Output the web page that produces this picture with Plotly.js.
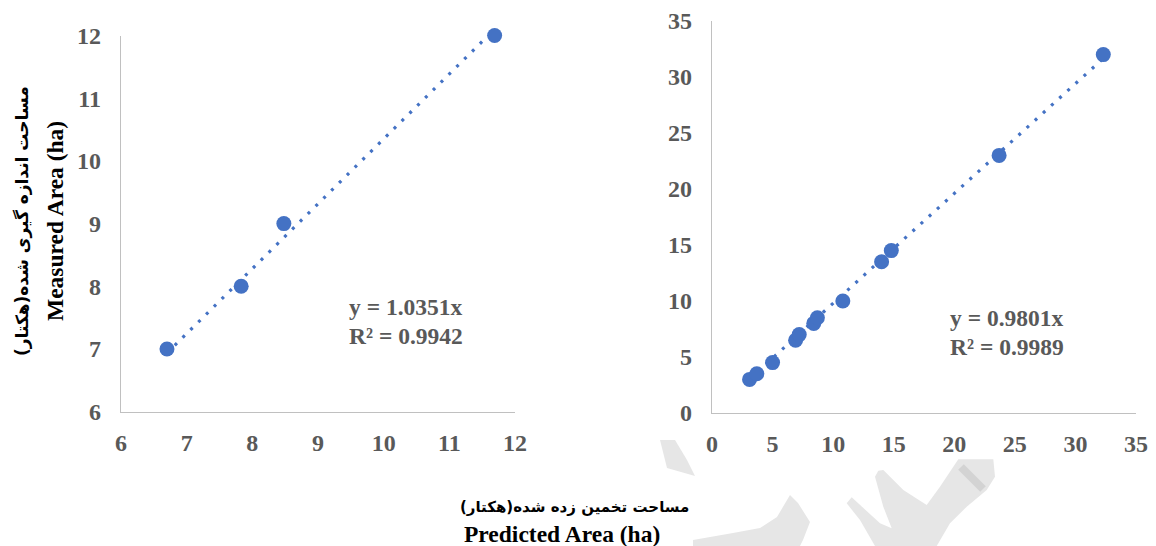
<!DOCTYPE html>
<html>
<head>
<meta charset="utf-8">
<script src="https://cdn.plot.ly/plotly-3.0.1.min.js"></script>
<style>html,body{margin:0;padding:0;background:#fff;}#chart{width:1156px;height:546px;}</style>
</head>
<body>
<div id="chart"></div>
<script>
// ---- Data ----
const leftPredicted = [6.7, 7.83, 8.48, 11.69];
const leftMeasured  = [7, 8, 9, 12];
const leftSlope = 1.0351;
const leftEquation = "y = 1.0351x";
const leftR2 = "R² = 0.9942";

const rightPredicted = [3.1, 3.7, 5.0, 6.9, 7.2, 8.4, 8.7, 10.8, 14.0, 14.8, 23.7, 32.3];
const rightMeasured  = [3.0, 3.5, 4.5, 6.5, 7.0, 8.0, 8.5, 10.0, 13.5, 14.5, 23.0, 32.0];
const rightSlope = 0.9801;
const rightEquation = "y = 0.9801x";
const rightR2 = "R² = 0.9989";

const leftTicks = [6, 7, 8, 9, 10, 11, 12];
const rightTicks = [0, 5, 10, 15, 20, 25, 30, 35];

const yTitleFa = "مساحت اندازه گیری شده(هکتار)";
const yTitleEn = "Measured Area (ha)";
const xTitleFa = "مساحت تخمین زده شده(هکتار)";
const xTitleEn = "Predicted Area (ha)";

// ---- Styles ----
const W = 1156, H = 546;
const blue = '#4472C4';
const gray = '#595959';
const serif = 'Liberation Serif';
const persian = 'DejaVu Sans';
const px = (x) => x / W;
const py = (y) => 1 - y / H;
const b = (s) => '<b>' + s + '</b>';

function trend(xs, slope) {
  const lo = Math.min(...xs), hi = Math.max(...xs);
  return {x: [lo, hi], y: [lo * slope, hi * slope]};
}
const lt = trend(leftPredicted, leftSlope);
const rt = trend(rightPredicted, rightSlope);

const lineStyle = {color: blue, width: 3.2, dash: '3px,8px'};
const markerStyle = {color: blue, size: 15};

const traces = [
  {x: lt.x, y: lt.y, mode: 'lines', line: lineStyle, xaxis: 'x', yaxis: 'y', cliponaxis: false},
  {x: leftPredicted, y: leftMeasured, mode: 'markers', marker: markerStyle, xaxis: 'x', yaxis: 'y', cliponaxis: false},
  {x: rt.x, y: rt.y, mode: 'lines', line: lineStyle, xaxis: 'x2', yaxis: 'y2', cliponaxis: false},
  {x: rightPredicted, y: rightMeasured, mode: 'markers', marker: markerStyle, xaxis: 'x2', yaxis: 'y2', cliponaxis: false}
];

const tickFont = {family: serif, size: 24, color: gray};
function axis(domain, range, ticks, anchor, isY) {
  return {
    domain: domain, range: range, tickvals: ticks, ticktext: ticks.map(t => b(String(t))),
    anchor: anchor, showgrid: false, zeroline: false, showline: true,
    linecolor: '#C0C0C0', linewidth: 1.3, ticks: '', tickfont: tickFont,
    ticklabelstandoff: isY ? 14 : 9, fixedrange: true
  };
}

// watermark polygons in pixel coordinates (decorative background)
const wm = [
  [[660,440],[675,440],[687,460],[695,476],[667,468]],
  [[693,540],[733,533],[760,528],[777,517],[790,495],[798,503],[810,522],[803,540],[800,546],[693,546]],
  [[846.7,503.3],[851.7,497.3],[880,523.3],[891.7,528.3],[883.3,506.7],[875,476.7],[878.3,470.7],
   [883.3,470],[903.3,490],[926.7,505],[940,486.7],[958.3,459.3],[993.3,459.3],[995,476.7],
   [986.7,490],[966.7,506.7],[950,523.3],[936.7,546],[875,546],[860,520]]
];
const shapes = wm.map(p => ({
  type: 'path', xref: 'paper', yref: 'paper', layer: 'below',
  path: 'M' + p.map(q => px(q[0]).toFixed(5) + ',' + py(q[1]).toFixed(5)).join('L') + 'Z',
  fillcolor: '#E6E6E6', line: {width: 0}
}));
shapes.push({type: 'line', xref: 'paper', yref: 'paper', layer: 'below',
  x0: px(961), y0: py(467), x1: px(983), y1: py(489), line: {color: '#D3D3D3', width: 8}});

const annFont = {family: serif, size: 23.5, color: gray};
function eqLine(xr, yr, x, y, text) {
  return {xref: xr, yref: yr, x: x, y: y, text: b(text), showarrow: false,
    align: 'left', xanchor: 'left', yanchor: 'middle', font: annFont};
}
const layout = {
  width: W, height: H,
  margin: {l: 0, r: 0, t: 0, b: 0},
  paper_bgcolor: '#fff', plot_bgcolor: 'rgba(0,0,0,0)',
  showlegend: false,
  xaxis: axis([px(121), px(515)], [6, 12], leftTicks, 'y', false),
  yaxis: axis([py(411.7), py(35.5)], [6, 12], leftTicks, 'x', true),
  xaxis2: axis([px(712), px(1136)], [0, 35], rightTicks, 'y2', false),
  yaxis2: axis([py(413), py(21)], [0, 35], rightTicks, 'x2', true),
  shapes: shapes,
  annotations: [
    eqLine('x', 'y', 9.44, 7.67, leftEquation),
    eqLine('x', 'y', 9.44, 7.21, leftR2),
    eqLine('x2', 'y2', 19.49, 8.48, rightEquation),
    eqLine('x2', 'y2', 19.49, 5.9, rightR2),
    {xref: 'paper', yref: 'paper', x: px(22), y: py(221), text: b(yTitleFa), textangle: -90,
     showarrow: false, xanchor: 'center', yanchor: 'middle',
     font: {family: persian, size: 17, color: '#000'}},
    {xref: 'paper', yref: 'paper', x: px(55), y: py(221), text: b(yTitleEn), textangle: -90,
     showarrow: false, xanchor: 'center', yanchor: 'middle',
     font: {family: serif, size: 23.5, color: '#000'}},
    {xref: 'paper', yref: 'paper', x: px(574), y: py(507), text: b(xTitleFa),
     showarrow: false, xanchor: 'center', yanchor: 'middle',
     font: {family: persian, size: 15, color: '#000'}},
    {xref: 'paper', yref: 'paper', x: px(562), y: py(534), text: b(xTitleEn),
     showarrow: false, xanchor: 'center', yanchor: 'middle',
     font: {family: serif, size: 23.5, color: '#000'}}
  ]
};

Plotly.newPlot('chart', traces, layout, {displayModeBar: false, staticPlot: true});
</script>
</body>
</html>
